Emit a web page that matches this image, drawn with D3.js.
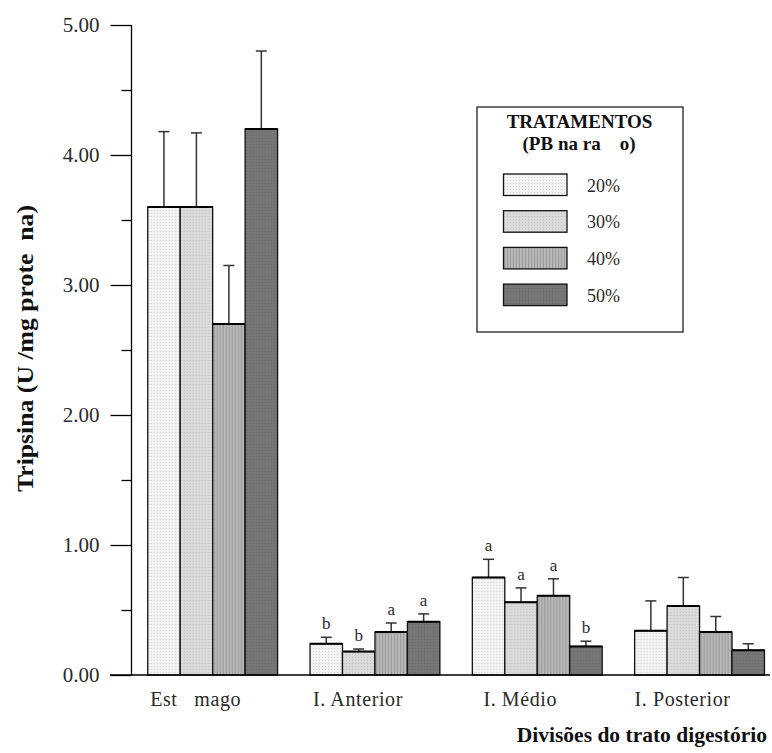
<!DOCTYPE html>
<html><head><meta charset="utf-8">
<script src="https://cdn.jsdelivr.net/npm/d3@7"></script>
<style>body{margin:0;background:#fff}svg{display:block}text{white-space:pre}</style>
</head><body>
<svg id="c" width="772" height="753"></svg>
<script>
const categories = ["Est   mago", "I. Anterior", "I. Médio", "I. Posterior"];
const treatments = ["20%", "30%", "40%", "50%"];
const means20 = [3.60, 0.24, 0.75, 0.34];
const means30 = [3.60, 0.18, 0.56, 0.53];
const means40 = [2.70, 0.33, 0.61, 0.33];
const means50 = [4.20, 0.41, 0.22, 0.19];
const err20 = [0.58, 0.05, 0.14, 0.23];
const err30 = [0.57, 0.02, 0.11, 0.22];
const err40 = [0.45, 0.07, 0.13, 0.12];
const err50 = [0.60, 0.06, 0.04, 0.05];
const letters20 = ["", "b", "a", ""];
const letters30 = ["", "b", "a", ""];
const letters40 = ["", "a", "a", ""];
const letters50 = ["", "a", "b", ""];
const yTicks = [0, 1, 2, 3, 4, 5];
const yMinor = [0.5, 1.5, 2.5, 3.5, 4.5];

const means = [means20, means30, means40, means50];
const errs = [err20, err30, err40, err50];
const letters = [letters20, letters30, letters40, letters50];

const svg = d3.select("#c");
const font = "'Liberation Serif', 'Times New Roman', serif";
const txt = "#2a2a2a";

// patterns
const defs = svg.append("defs");
function pat(id, base, dot, vertical) {
  const p = defs.append("pattern").attr("id", id).attr("patternUnits", "userSpaceOnUse")
    .attr("width", 3).attr("height", 3);
  p.append("rect").attr("width", 3).attr("height", 3).attr("fill", base);
  if (vertical) {
    p.append("rect").attr("x", 0).attr("width", 1).attr("height", 3).attr("fill", dot);
  } else {
    p.append("rect").attr("x", 0).attr("y", 0).attr("width", 1).attr("height", 1).attr("fill", dot);
  }
}
pat("p0", "#f2f2f2", "#d4d4d4", false);
pat("p1", "#dadada", "#c4c4c4", false);
pat("p2", "#b8b8b8", "#9a9a9a", true);
pat("p3", "#767676", "#6a6a6a", false);

const axisX = 131.5;
const y = d3.scaleLinear().domain([0, 5]).range([675, 25]);
const x0 = d3.scaleBand().domain(categories).range([axisX, 780.7]).paddingInner(0.2).paddingOuter(0.1);
const x1 = d3.scaleBand().domain(treatments).range([0, x0.bandwidth()]);

// y axis
const yAxis = d3.axisLeft(y).tickValues(yTicks).tickFormat(d3.format(".2f")).tickSize(21).tickPadding(11);
const gy = svg.append("g").attr("transform", `translate(${axisX},0)`).call(yAxis);
gy.select(".domain").attr("d", `M0,${y(5)}V${y(0)}`).attr("stroke", "#000").attr("stroke-width", 1.3);
gy.selectAll(".tick line").attr("stroke", "#000").attr("stroke-width", 1.3);
gy.selectAll(".tick text").attr("font-family", font).attr("font-size", 21).attr("fill", txt);
const minor = d3.axisLeft(y).tickValues(yMinor).tickSize(10).tickFormat("");
const gm = svg.append("g").attr("transform", `translate(${axisX},0)`).call(minor);
gm.select(".domain").remove();
gm.selectAll(".tick line").attr("stroke", "#000").attr("stroke-width", 1.3);

// bars
const groups = svg.append("g").selectAll("g").data(categories).join("g")
  .attr("transform", d => `translate(${x0(d)},0)`);

treatments.forEach((t, ti) => {
  groups.each(function (c, ci) {
    const g = d3.select(this);
    const v = means[ti][ci], e = errs[ti][ci];
    const bx = x1(t), bw = x1.bandwidth();
    const cx = bx + bw / 2;
    g.append("line").attr("x1", cx).attr("x2", cx).attr("y1", y(v)).attr("y2", y(v + e))
      .attr("stroke", "#333").attr("stroke-width", 1.5);
    g.append("line").attr("x1", cx - 5.5).attr("x2", cx + 5.5).attr("y1", y(v + e)).attr("y2", y(v + e))
      .attr("stroke", "#333").attr("stroke-width", 1.5);
    g.append("rect").attr("x", bx).attr("y", y(v)).attr("width", bw).attr("height", y(0) - y(v))
      .attr("fill", `url(#p${ti})`).attr("stroke", "#111").attr("stroke-width", 1.3);
    g.append("line").attr("x1", bx).attr("x2", bx + bw).attr("y1", y(v)).attr("y2", y(v))
      .attr("stroke", "#000").attr("stroke-width", 2);
    const L = letters[ti][ci];
    if (L) {
      g.append("text").attr("x", cx).attr("y", y(v + e) - 8).attr("text-anchor", "middle")
        .attr("font-family", font).attr("font-size", 17).attr("fill", txt).text(L);
    }
  });
});

// x axis
const xAxis = d3.axisBottom(x0).tickSize(0).tickPadding(17);
const gx = svg.append("g").attr("transform", `translate(0,${y(0)})`).call(xAxis);
gx.select(".domain").attr("d", `M110,0H770`).attr("stroke", "#000").attr("stroke-width", 1.5);
gx.selectAll(".tick text").attr("font-family", font).attr("font-size", 20).attr("letter-spacing", 0.6)
  .attr("fill", txt).attr("dx", -17);

// axis titles
svg.append("text").attr("transform", "translate(33,348.5) rotate(-90)").attr("text-anchor", "middle")
  .attr("font-family", font).attr("font-size", 24).attr("font-weight", "bold").attr("fill", "#111")
  .attr("textLength", 287).attr("lengthAdjust", "spacingAndGlyphs")
  .text("Tripsina (U /mg prote  na)");
svg.append("text").attr("x", 767).attr("y", 742).attr("text-anchor", "end")
  .attr("font-family", font).attr("font-size", 21.5).attr("font-weight", "bold").attr("fill", "#111")
  .text("Divisões do trato digestório");

// legend
const lg = svg.append("g");
lg.append("rect").attr("x", 477).attr("y", 107).attr("width", 206).attr("height", 225)
  .attr("fill", "#fff").attr("stroke", "#222").attr("stroke-width", 1.3);
lg.append("text").attr("x", 579.5).attr("y", 128).attr("text-anchor", "middle")
  .attr("font-family", font).attr("font-size", 19).attr("font-weight", "bold").attr("fill", "#111")
  .text("TRATAMENTOS");
lg.append("text").attr("x", 579).attr("y", 150).attr("text-anchor", "middle")
  .attr("font-family", font).attr("font-size", 19).attr("font-weight", "bold").attr("fill", "#111")
  .text("(PB na ra    o)");
treatments.forEach((t, i) => {
  const yy = 174 + i * 36.7;
  lg.append("rect").attr("x", 503.5).attr("y", yy).attr("width", 63.5).attr("height", 21.5)
    .attr("fill", `url(#p${i})`).attr("stroke", "#111").attr("stroke-width", 1.3);
  lg.append("text").attr("x", 587).attr("y", yy + 17.5).attr("font-family", font).attr("font-size", 18)
    .attr("fill", txt).text(t);
});
</script>
</body></html>
